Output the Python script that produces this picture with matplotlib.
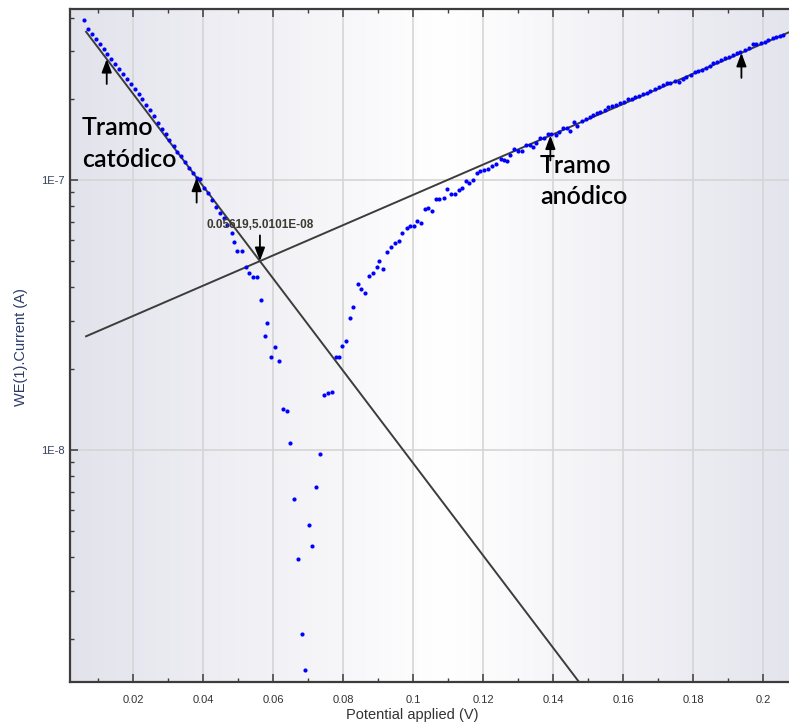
import matplotlib
matplotlib.use('Agg')
import matplotlib.pyplot as plt
from matplotlib.ticker import FixedLocator, FuncFormatter, LogLocator, MultipleLocator, NullFormatter
import numpy as np

plt.rcParams['font.family'] = ['Liberation Sans', 'DejaVu Sans']

# Barrido de potencial (mV) y corriente medida (nA)
E_mV = [6.0, 7.1, 8.2, 9.3, 10.4, 11.5, 12.6, 13.7, 14.9, 15.9,
        17.1, 18.2, 19.3, 20.4, 21.5, 22.6, 23.7, 24.8, 25.9, 27.0,
        28.1, 29.2, 30.3, 31.5, 32.5, 33.7, 34.8, 35.9, 37.0, 38.1,
        39.2, 40.3, 41.4, 42.5, 43.6, 44.7, 45.8,
        46.9, 48.1, 48.8, 49.7, 51.0, 52.1, 53.1, 54.3, 55.4, 56.5,
        57.5, 58.3, 59.3, 60.5, 61.6, 62.7, 63.9, 64.9, 66.0, 67.1,
        68.2, 69.0, 70.1, 71.1, 72.3, 73.3, 74.5, 75.5, 76.7, 77.8,
        78.9, 79.7, 80.7, 81.9, 82.9, 84.1, 85.2, 86.3, 87.3, 88.5,
        89.6, 90.3, 91.4, 92.5, 93.6, 94.8, 95.8, 96.9, 98.1, 99.1,
        100.3, 101.0, 102.1, 103.3, 104.3, 105.3, 106.4, 107.5, 108.7, 109.7,
        110.9, 111.9, 113.0, 114.0, 115.0, 116.0, 117.1, 118.3, 119.1, 120.2,
        121.4, 122.6, 123.6, 125.0, 125.9, 126.9, 127.8, 128.9, 130.0, 131.1,
        132.2, 133.3, 134.1, 135.1, 136.2, 137.3, 138.4, 139.5, 140.7, 141.7,
        142.9, 144.0, 144.8, 145.9, 146.9, 148.1, 149.3, 150.5, 151.4, 152.6,
        153.5, 154.8, 155.7, 156.9, 157.9, 159.1, 160.2, 161.4, 162.4, 163.3,
        164.6, 165.7, 166.9, 167.8, 169.1, 170.2, 171.3, 172.4, 173.5, 174.8,
        175.9, 177.0, 178.1, 179.3, 180.5, 181.4, 182.6, 183.6, 184.8, 185.7,
        186.9, 188.0, 189.1, 190.2, 191.3, 192.4, 193.5, 194.8, 195.9, 197.0,
        198.1, 199.3, 200.4, 201.5, 202.7, 203.8, 204.8, 205.7]
I_nA = [391, 362, 347, 333, 319, 306, 293, 281, 269, 258,
        247, 237, 227, 217, 208, 199, 190, 182, 173, 163,
        155, 148, 141, 134, 127, 123, 117, 111, 106, 101.5,
        101, 93.4, 89.7, 84.3, 79.6, 75.7, 72.1,
        68.1, 63.6, 59.1, 54.8, 54.8, 47.6, 45.3, 43.8, 43.8, 36.1,
        26.5, 29.6, 22.2, 24.1, 21.3, 14.2, 13.9, 10.6, 6.58, 3.94,
        2.08, 1.53, 5.28, 4.40, 7.28, 9.66, 16.0, 16.2, 16.4, 22.2,
        22.2, 24.3, 25.4, 30.9, 33.8, 41.2, 39.5, 38.1, 44.0, 45.1,
        47.5, 50.2, 46.9, 54.3, 56.6, 58.5, 59.7, 63.8, 66.7, 67.4,
        67.4, 70.6, 69.6, 77.8, 78.6, 76.8, 84.9, 84.9, 85.8, 92.6,
        88.5, 88.5, 91.6, 93.6, 99.1, 97.7, 100, 105.9, 108, 108.9,
        109.8, 112.7, 114.6, 119.3, 118.6, 117.6, 123.5, 130.3, 128.1, 128.4,
        134.8, 134.8, 132.8, 137.4, 142.7, 143.5, 147.7, 147.7, 146.5, 150.2,
        155.4, 155.4, 151.9, 164.4, 158.5, 165.8, 167.8, 171.6, 174.1, 177.5,
        179.1, 181.6, 186.8, 187.9, 189.5, 193.3, 195.0, 199.0, 200.0, 202.4,
        204.7, 208.2, 210.5, 214.1, 216.7, 220.4, 224.8, 228.1, 229.3, 233.2,
        231.2, 236.0, 240.1, 244.8, 251.8, 254.0, 255.5, 259.3, 264.4, 271.9,
        274.2, 278.3, 282.3, 286.2, 290.4, 294.6, 298.7, 303.0, 309.0, 318.1,
        318.1, 320.8, 325.2, 330.0, 334.8, 337.7, 342.3, 344.3]

# Ajuste de Tafel: punto de corte y pendientes (V/década)
E_corr = 0.05619
I_corr = 5.0101e-08
beta_c = 0.0585
beta_a = 0.1784
# límites de los tramos usados en el ajuste (flechas)
E_cat = [0.0124, 0.0381]
E_ano = [0.1392, 0.1938]


def tafel_cat(E):
    return I_corr * 10 ** (-(np.asarray(E) - E_corr) / beta_c)


def tafel_ano(E):
    return I_corr * 10 ** ((np.asarray(E) - E_corr) / beta_a)


E = np.array(E_mV) / 1000
I = np.array(I_nA) * 1e-9

fig = plt.figure(figsize=(7.89, 7.23), dpi=100)
pos = [0.0887, 0.0567, 0.9113, 0.9308]

# fondo con degradado horizontal
bg = fig.add_axes(pos, zorder=0)
frac = np.linspace(0, 1, 400)
shade = np.interp(frac, [0, 0.52, 1], [0.0, 1.0, 0.06])
c0 = np.array([0.888, 0.888, 0.925])
rgb = c0[None, :] + (1 - c0[None, :]) * shade[:, None]
bg.imshow(rgb[None, :, :], aspect='auto', extent=[0, 1, 0, 1])
bg.axis('off')

ax = fig.add_axes(pos, zorder=1)
ax.set_facecolor('none')
ax.set_yscale('log')
ax.set_xlim(0.0019, 0.2074)
ax.set_ylim(1.383e-9, 4.30e-7)

ax.grid(which='major', color='#d5d5d5', lw=1.2, zorder=0)

# rectas de Tafel
Ec = np.array([0.0065, 0.17])
Ea = np.array([0.0065, 0.215])
ax.plot(Ec, tafel_cat(Ec), color='#3c3c3c', lw=1.4, zorder=2)
ax.plot(Ea, tafel_ano(Ea), color='#3c3c3c', lw=1.4, zorder=2)

ax.plot(E, I, 'o', color='#0000ff', ms=3.0, mew=0, zorder=3)

arrow = dict(arrowstyle='-|>,head_length=0.8,head_width=0.3', color='black',
             lw=1.3, mutation_scale=10, shrinkA=0, shrinkB=0)
for e in E_cat:
    ax.annotate('', xy=(e, tafel_cat(e)), xytext=(0, -18), textcoords='offset points',
                arrowprops=arrow, zorder=4)
for e in E_ano:
    ax.annotate('', xy=(e, tafel_ano(e)), xytext=(0, -18), textcoords='offset points',
                arrowprops=arrow, zorder=4)
ax.annotate('', xy=(E_corr, I_corr), xytext=(0, 18.5), textcoords='offset points',
            arrowprops=arrow, zorder=4)
ax.annotate(f'{E_corr:.5f},{I_corr:.4E}', xy=(E_corr, I_corr), xytext=(0, 26),
            textcoords='offset points', ha='center', va='center',
            fontsize=8.5, fontweight='bold', color='#3a3a30', zorder=5)

txt = dict(family=['Lato', 'DejaVu Sans'], fontsize=18, fontweight='semibold',
           color='black', zorder=5)
ax.text(0.0053, 1.468e-7, 'Tramo', **txt)
ax.text(0.0053, 1.12e-7, 'catódico', **txt)
ax.text(0.1362, 1.064e-7, 'Tramo', **txt)
ax.text(0.1362, 8.15e-8, 'anódico', **txt)

# ejes y marcas
ax.xaxis.set_major_locator(MultipleLocator(0.02))
ax.xaxis.set_minor_locator(MultipleLocator(0.01))
ax.xaxis.set_major_formatter(FuncFormatter(lambda v, p: '%g' % round(v, 4)))
ax.yaxis.set_major_locator(FixedLocator([1e-8, 1e-7]))
ax.yaxis.set_minor_locator(LogLocator(base=10, subs=np.arange(2, 10)))
ax.yaxis.set_minor_formatter(NullFormatter())
ax.yaxis.set_major_formatter(FuncFormatter(lambda v, p: '1E%d' % round(np.log10(v))))

ax.tick_params(axis='both', which='both', direction='in', top=True, right=False,
               color='#3c3c3c')
ax.tick_params(which='major', length=6, width=1.1)
ax.tick_params(which='minor', length=3, width=1.0)
ax.tick_params(axis='x', which='major', pad=9, labelsize=8, labelcolor='#333333')
ax.tick_params(axis='y', which='major', pad=4, labelsize=8, labelcolor='#34405a')

for side in ['left', 'bottom', 'top']:
    ax.spines[side].set_color('#3c3c3c')
    ax.spines[side].set_linewidth(1.6)
ax.spines['right'].set_visible(False)

ax.set_xlabel('Potential applied (V)', fontsize=10.5, color='#333333')
ax.xaxis.set_label_coords(0.476, -0.038)
ax.set_ylabel('WE(1).Current (A)', fontsize=10.5, color='#2a3b66')
ax.yaxis.set_label_coords(-0.058, 0.497)

fig.savefig('out.png', dpi=100)
